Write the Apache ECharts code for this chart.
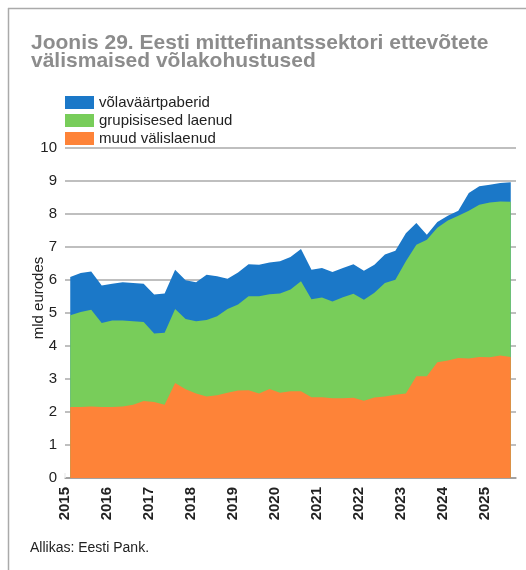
<!DOCTYPE html>
<html lang="et">
<head>
  <meta charset="UTF-8" />
  <title>Joonis 29</title>
  <script src="https://cdn.jsdelivr.net/npm/echarts@6/dist/echarts.min.js"></script>
  <style>
    body { margin: 0; background: #fff; }
    #chart { width: 526px; height: 570px; }
  </style>
</head>
<body>
  <div id="chart"></div>
  <script>
    // kvartalid 2015 I kv kuni 2025 III kv
    const quarters = [];
    for (let y = 2015; y <= 2025; y++) {
      for (let q = 1; q <= 4; q++) {
        if (y === 2025 && q === 4) break;
        quarters.push(y + 'Q' + q);
      }
    }

    // mld eurodes, loetud jooniselt
    const muudValislaenud = [2.15,2.15,2.17,2.15,2.15,2.17,2.22,2.33,2.30,2.22,2.88,2.69,2.56,2.47,2.51,2.58,2.65,2.66,2.56,2.70,2.58,2.63,2.63,2.45,2.45,2.42,2.42,2.43,2.34,2.44,2.47,2.52,2.56,3.08,3.08,3.51,3.56,3.64,3.62,3.67,3.66,3.71,3.67];
    const grupisisesedLaenud = [2.78,2.88,2.93,2.55,2.62,2.60,2.53,2.40,2.08,2.18,2.24,2.13,2.19,2.32,2.39,2.54,2.61,2.85,2.95,2.87,3.01,3.08,3.33,2.97,3.02,2.93,3.06,3.15,3.06,3.17,3.44,3.49,4.01,3.99,4.14,4.07,4.24,4.31,4.48,4.61,4.69,4.67,4.70];
    const volavaartpaberid = [1.16,1.18,1.16,1.13,1.12,1.16,1.16,1.16,1.18,1.19,1.19,1.17,1.18,1.37,1.21,0.92,0.97,0.97,0.95,0.96,0.98,0.99,0.98,0.89,0.89,0.89,0.88,0.90,0.88,0.85,0.86,0.88,0.85,0.66,0.15,0.18,0.15,0.15,0.54,0.56,0.54,0.56,0.59];

    const seriesNames = ['võlaväärtpaberid', 'grupisisesed laenud', 'muud välislaenud'];
    const colors = { 'võlaväärtpaberid': '#1b78c8', 'grupisisesed laenud': '#78cd5a', 'muud välislaenud': '#fe8338' };

    // kvartali keskpunkt aastaskaalal
    const qx = s => +s.slice(0, 4) + (+s.slice(5) - 0.5) / 4;

    // kahe väärtusteljega ei virna echarts y-d, seega summad ise
    const layers = [muudValislaenud, grupisisesedLaenud, volavaartpaberid];
    const cum = layers.map((_, k) => quarters.map((q, i) => {
      let s = 0;
      for (let j = 0; j <= k; j++) s += layers[j][i];
      return [qx(q), +s.toFixed(2)];
    }));

    const font = '"Liberation Sans", Arial, sans-serif';
    const chart = echarts.init(document.getElementById('chart'));

    const mkSeries = (name, data, z) => ({
      name: name,
      type: 'line',
      data: data,
      symbol: 'none',
      lineStyle: { width: 0 },
      areaStyle: { color: colors[name], opacity: 1, origin: 'start' },
      itemStyle: { color: colors[name] },
      z: z
    });

    chart.setOption({
      animation: false,
      textStyle: { fontFamily: font },
      graphic: [
        { type: 'line', shape: { x1: 8, y1: 8.5, x2: 526, y2: 8.5 }, style: { stroke: '#aaa', lineWidth: 1.5 } },
        { type: 'line', shape: { x1: 8.5, y1: 8, x2: 8.5, y2: 570 }, style: { stroke: '#aaa', lineWidth: 1.5 } },
        {
          type: 'text', left: 31, top: 33,
          style: {
            text: 'Joonis 29. Eesti mittefinantssektori ettevõtete\nvälismaised võlakohustused',
            font: 'bold 21px ' + font, fill: '#8c8c8c', lineHeight: 18
          }
        },
        {
          type: 'text', x: 39, y: 298, rotation: Math.PI / 2,
          style: { text: 'mld eurodes', font: '15px ' + font, fill: '#222', align: 'center', verticalAlign: 'middle' }
        },
        {
          type: 'text', left: 30, top: 541,
          style: { text: 'Allikas: Eesti Pank.', font: '14px ' + font, fill: '#222' }
        }
      ],
      legend: {
        data: seriesNames,
        orient: 'vertical',
        left: 65, top: 95, padding: 0,
        itemWidth: 29, itemHeight: 13, itemGap: 3,
        icon: 'rect',
        textStyle: { fontSize: 15, color: '#222', lineHeight: 13 },
        selectedMode: false
      },
      grid: { left: 65, right: 10, top: 148, bottom: 92 },
      xAxis: {
        type: 'value',
        min: 2015, max: 2025.75, interval: 1,
        axisLine: { lineStyle: { color: '#999', width: 1.5 } },
        axisTick: { inside: true, length: 5, lineStyle: { color: '#eee', width: 1.5 } },
        splitLine: { show: false },
        axisLabel: {
          rotate: 90, fontSize: 15, fontWeight: 'bold', color: '#222', margin: 9,
          showMaxLabel: false,
          formatter: v => (Number.isInteger(v) ? String(v) : '')
        }
      },
      yAxis: {
        type: 'value',
        min: 0, max: 10, interval: 1,
        axisLine: { show: false },
        axisTick: { show: false },
        splitLine: { lineStyle: { color: '#aaa', width: 1.5 } },
        axisLabel: { fontSize: 15, color: '#222', margin: 8 }
      },
      series: [
        mkSeries('võlaväärtpaberid', cum[2], 2),
        mkSeries('grupisisesed laenud', cum[1], 3),
        mkSeries('muud välislaenud', cum[0], 4)
      ]
    });
  </script>
</body>
</html>
